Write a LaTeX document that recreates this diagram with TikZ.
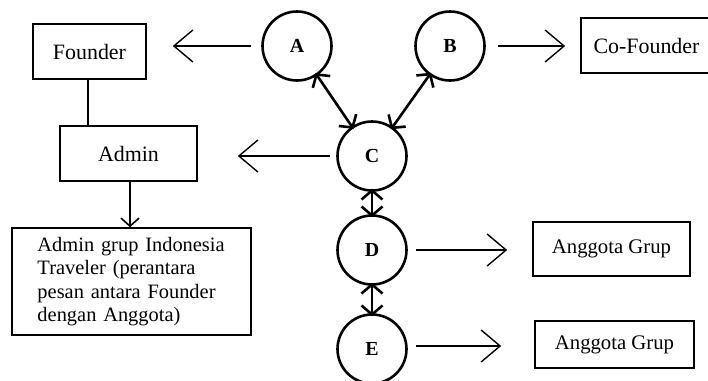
\documentclass[tikz,border=0pt]{standalone}
\usepackage{fontspec}
\setmainfont{Liberation Serif}
\usetikzlibrary{arrows.meta}
\tikzset{
  box/.style={draw, line width=1.6bp, rectangle, inner sep=0pt, align=center,
    font=\fontsize{22}{25}\selectfont},
  person/.style={draw, circle, line width=2.6bp, minimum size=69bp, inner sep=0pt,
    font=\fontsize{20}{22}\selectfont\bfseries},
  single/.style={line width=1.4bp, -{Straight Barb[length=19bp,width=32bp]}},
  link/.style={line width=2.6bp, shorten <=-3bp, shorten >=-3bp,
    {Straight Barb[length=9bp,width=21bp]}-{Straight Barb[length=9bp,width=21bp]}},
}
\begin{document}
\begin{tikzpicture}[x=1bp,y=-1bp]
\useasboundingbox (0,0) rectangle (708,380);
\clip (0,0) rectangle (708,380);

% people
\node[person] (A) at (297,46) {A};
\node[person] (B) at (450,46) {B};
\node[person] (C) at (372,156) {C};
\node[person] (D) at (372,250) {D};
\node[person] (E) at (372,349) {E};

% roles
\node[box, minimum width=113bp, minimum height=55bp] (founder) at (89.5,51.5) {Founder};
\node[box, minimum width=137bp, minimum height=55bp] (admin) at (128.5,153.5) {Admin};
\node[box, minimum width=131bp, minimum height=55bp] (cofounder) at (646.5,45.5) {Co-Founder};
\node[box, minimum width=239bp, minimum height=107bp, text width=188bp,
  inner xsep=25.5bp, align=left, font=\fontsize{20.5}{23.5}\selectfont]
  (admingrup) at (131.5,281.5)
  {Admin grup Indonesia Traveler (perantara pesan antara Founder dengan Anggota)};
\node[box, minimum width=157bp, minimum height=54bp, font=\fontsize{20.8}{23}\selectfont]
  (grup1) at (611.5,249) {Anggota Grup};
\node[box, minimum width=159bp, minimum height=47bp, font=\fontsize{20.8}{23}\selectfont]
  (grup2) at (614.5,344.5) {Anggota Grup};

% links between people
\draw[link] (A) -- (C);
\draw[link] (B) -- (C);
\draw[link] (C) -- (D);
\draw[link] (D) -- (E);

% people to roles
\draw[single, shorten <=10bp, shorten >=26bp] (A.west) -- (A.west -| founder.east);
\draw[single, shorten <=12bp, shorten >=15bp] (B.east) -- (B.east -| cofounder.west);
\draw[single, shorten <=6bp, shorten >=40bp] (C.west) -- (C.west -| admin.east);
\draw[single, shorten <=8bp, shorten >=25bp] (D.east) -- (D.east -| grup1.west);
\draw[single, shorten <=8bp, shorten >=33bp] ([yshift=3bp]E.east) -- ([yshift=3bp]E.east -| grup2.west);

% hierarchy on the left
\draw[line width=1.6bp] (founder.south -| 88,0) -- (admin.north -| 88,0);
\draw[line width=1.6bp, -{Straight Barb[length=8bp,width=18bp]}]
  (admin.south -| 130,0) -- (admingrup.north -| 130,0);
\end{tikzpicture}
\end{document}
